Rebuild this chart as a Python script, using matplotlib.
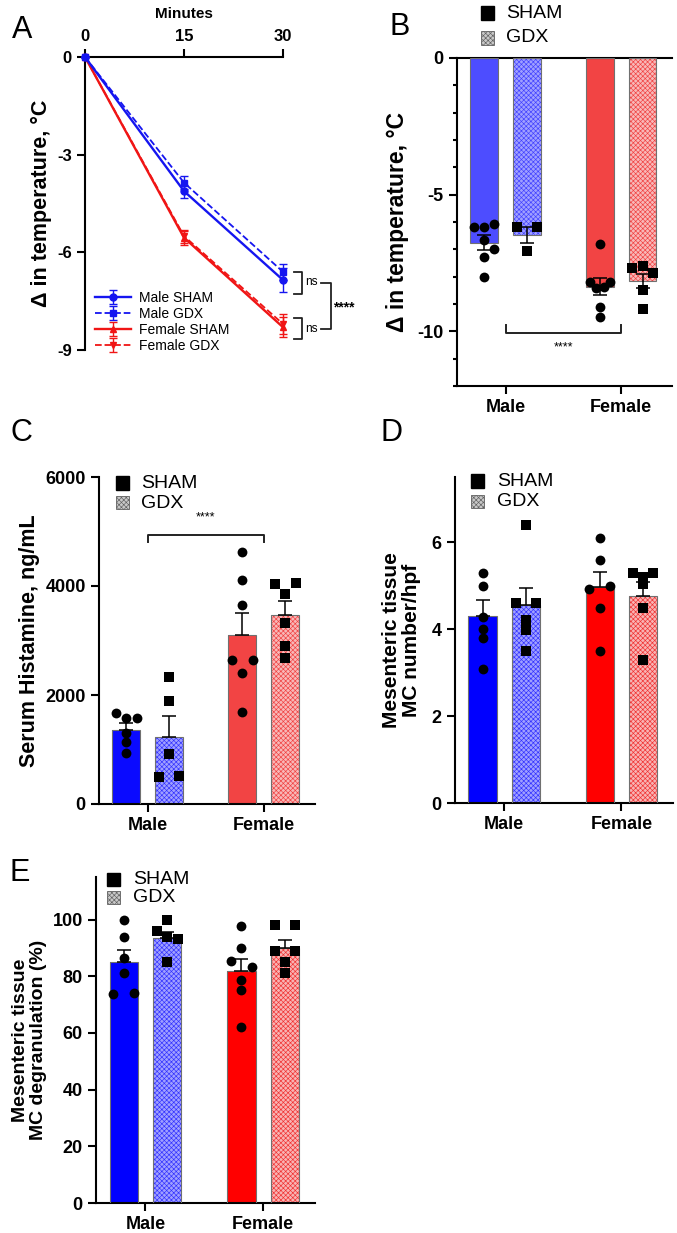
import matplotlib
matplotlib.use("Agg")
import matplotlib.pyplot as plt
from matplotlib.patches import Rectangle
from matplotlib.ticker import MultipleLocator
import numpy as np

plt.rcParams['font.family'] = ['Liberation Sans', 'DejaVu Sans']
plt.rcParams['hatch.linewidth'] = 0.45
plt.rcParams['axes.unicode_minus'] = False

W, H = 677, 1233

# ---------------- data ----------------
# panel A: time course
minutes = [0, 15, 30]
a_male_sham = [0, -4.12, -6.85]
a_male_sham_sem = [0, 0.2, 0.38]
a_male_gdx = [0, -3.86, -6.6]
a_male_gdx_sem = [0, 0.2, 0.25]
a_fem_sham = [0, -5.55, -8.3]
a_fem_sham_sem = [0, 0.22, 0.3]
a_fem_gdx = [0, -5.5, -8.2]
a_fem_gdx_sem = [0, 0.2, 0.32]

groups = ['Male', 'Female']

# panel B: temperature drop (Male SHAM, Male GDX, Female SHAM, Female GDX)
b_means = [-6.75, -6.48, -8.36, -8.15]
b_sem = [0.26, 0.3, 0.3, 0.26]
b_pts = [[-6.19, -6.19, -6.09, -6.65, -6.99, -7.29, -8.0],
         [-6.19, -6.19, -7.07],
         [-6.8, -8.19, -8.19, -8.42, -8.37, -9.1, -9.47],
         [-7.70, -7.60, -7.88, -8.49, -9.19]]

# panel C: serum histamine
c_means = [1356, 1234, 3098, 3464]
c_sem = [123, 380, 410, 257]
c_pts = [[1662, 1582, 1582, 1307, 1143, 929],
         [2322, 1888, 917, 501, 513],
         [4625, 4118, 3648, 2640, 2640, 2407, 1692],
         [4033, 4057, 3862, 3324, 2896, 2688]]

# panel D: MC number/hpf
d_means = [4.31, 4.55, 4.97, 4.76]
d_sem = [0.35, 0.39, 0.34, 0.32]
d_pts = [[5.29, 5.0, 4.28, 4.01, 3.80, 3.09],
         [6.40, 4.6, 4.6, 4.21, 3.98, 3.49],
         [6.10, 5.59, 4.93, 5.0, 4.49, 3.49],
         [5.29, 5.29, 5.2, 5.03, 4.49, 3.30]]

# panel E: MC degranulation (%)
e_means = [85.0, 93.5, 81.7, 90.0]
e_sem = [4.3, 2.0, 4.4, 2.6]
e_pts = [[100, 94, 86.6, 81.1, 73.8, 74],
         [100, 95.8, 93.8, 93, 85],
         [97.6, 90, 85.3, 83.2, 78.7, 75, 62],
         [97.9, 97.9, 88.8, 88.8, 85, 81.1]]

# horizontal jitter slots for the dots (layout only)
b_slots = [[-1, 0, 1, 0, 1, 0, 0], [-1, 1, 0], [0, -1, 1, -0.4, 0.4, 0, 0], [-1, 0, 1, 0, 0]]
c_slots = [[-1, 0, 1, 0, 0, 0], [0, 0, 0, -1, 1], [0, 0, 0, -1, 1, 0, 0], [-1, 1, 0, 0, 0, 0]]
d_slots = [[0, 0, 0, 0, 0, 0], [0, -1, 1, 0, 0, 0], [0, 0, -1, 1, 0, 0], [-1, 1, 0, 0, 0, 0]]
e_slots = [[0, 0, 0, 0, -1, 1], [0, -1, 0, 1, 0], [0, 0, -1, 1, 0, 0, 0], [-1, 1, -1, 1, 0, 0]]


def px_axes(fig, l, r, t, b):
    return fig.add_axes([l / W, 1 - b / H, (r - l) / W, (b - t) / H])


def style(ax, lw=1.5, size=13):
    for s in ax.spines.values():
        s.set_linewidth(lw)
    ax.tick_params(width=lw, length=6, labelsize=size)
    for lab in ax.get_yticklabels() + ax.get_xticklabels():
        lab.set_fontweight('bold')


def legend_px(fig, x, y1, y2, tx):
    s = 13
    fig.patches.append(Rectangle(((x - s / 2) / W, 1 - (y1 + s / 2) / H), s / W, s / H,
                                 transform=fig.transFigure, facecolor='k', edgecolor='k'))
    fig.patches.append(Rectangle(((x - s / 2) / W, 1 - (y2 + s / 2) / H), s / W, s / H,
                                 transform=fig.transFigure, facecolor='#c8c8c8',
                                 edgecolor='#606060', hatch='xxxxxxx', linewidth=0.6))
    fig.text(tx / W, 1 - y1 / H, 'SHAM', fontsize=14, va='center', ha='left')
    fig.text(tx / W, 1 - y2 / H, 'GDX', fontsize=14, va='center', ha='left')


def bar_panel(ax, means, sem, pts, slots, cols, both):
    off, wid, jit = 0.185, 0.24, 0.088
    pos = [-off, off, 1 - off, 1 + off]
    for i in range(4):
        fc, hc, hatched = cols[i]
        if hatched:
            ax.bar(pos[i], means[i], wid, color=fc, edgecolor=hc, hatch='xxxxxxx',
                   linewidth=0, zorder=2)
        else:
            ax.bar(pos[i], means[i], wid, color=fc, linewidth=0, zorder=2)
        ax.bar(pos[i], means[i], wid, fill=False, edgecolor='#707070', linewidth=0.8, zorder=3)
        if both:
            yerr = [[sem[i]], [sem[i]]]
        else:
            yerr = [[0], [sem[i]]]
        ax.errorbar(pos[i], means[i], yerr=yerr, fmt='none', ecolor='k',
                    elinewidth=1.1, capsize=5, capthick=1.1, zorder=4)
        xs = pos[i] + jit * np.array(slots[i])
        ax.scatter(xs, pts[i], s=50, c='k', marker='o' if i % 2 == 0 else 's',
                   zorder=5, clip_on=False, linewidths=0)
    ax.set_xlim(-0.42, 1.44)
    ax.set_xticks([0, 1])
    ax.set_xticklabels(groups)
    ax.spines['right'].set_visible(False)
    ax.spines['top'].set_visible(False)


fig = plt.figure(figsize=(W / 100, H / 100), dpi=100)

# ---------------- A ----------------
ax = px_axes(fig, 85, 283, 57, 350)
ax.errorbar(minutes, a_male_sham, yerr=a_male_sham_sem, color='#1515f0', marker='o', ms=5,
            lw=1.7, capsize=3, elinewidth=1, label='Male SHAM', clip_on=False, zorder=4)
ax.errorbar(minutes, a_male_gdx, yerr=a_male_gdx_sem, color='#1515f0', marker='s', ms=5,
            lw=1.3, ls='--', capsize=3, elinewidth=1, label='Male GDX', clip_on=False, zorder=4)
ax.errorbar(minutes, a_fem_sham, yerr=a_fem_sham_sem, color='#f01515', marker='^', ms=4.5,
            lw=1.7, capsize=3, elinewidth=1, label='Female SHAM', clip_on=False, zorder=3)
ax.errorbar(minutes, a_fem_gdx, yerr=a_fem_gdx_sem, color='#f01515', marker='v', ms=4.5,
            lw=1.3, ls='--', capsize=3, elinewidth=1, label='Female GDX', clip_on=False, zorder=3)
ax.set_xlim(0, 30)
ax.set_ylim(-9, 0)
ax.set_xticks(minutes)
ax.set_yticks([0, -3, -6, -9])
ax.xaxis.tick_top()
ax.xaxis.set_label_position('top')
ax.set_xlabel('Minutes', fontweight='bold', fontsize=11, labelpad=8)
ax.spines['bottom'].set_visible(False)
ax.spines['right'].set_visible(False)
ax.set_ylabel('Δ in temperature, °C', fontweight='bold', fontsize=15.5, labelpad=4)
style(ax, size=12)
ax.legend(loc='lower left', bbox_to_anchor=(0.02, -0.03), frameon=False, fontsize=10,
          handlelength=2.6, labelspacing=0.15, borderaxespad=0, handletextpad=0.6)
# significance brackets
kw = dict(color='#222222', lw=1.3, clip_on=False)
ax.plot([31.6, 32.9, 32.9, 31.6], [-6.6, -6.6, -7.28, -7.28], **kw)
ax.plot([31.6, 32.9, 32.9, 31.6], [-8.02, -8.02, -8.66, -8.66], **kw)
ax.plot([35.8, 37.2, 37.2, 35.8], [-6.94, -6.94, -8.35, -8.35], **kw)
ax.text(33.3, -6.92, 'ns', fontsize=8.5, va='center', ha='left')
ax.text(33.3, -8.36, 'ns', fontsize=8.5, va='center', ha='left')
ax.text(37.6, -7.7, '****', fontsize=10, fontweight='bold', va='center', ha='left')

# ---------------- B ----------------
ax = px_axes(fig, 457, 672, 58, 386)
cols_b = [('#4d4dff', None, False), ('#a0a0ff', '#4040ff', True),
          ('#f24444', None, False), ('#f8b8b8', '#f04040', True)]
bar_panel(ax, b_means, b_sem, b_pts, b_slots, cols_b, True)
ax.spines['top'].set_visible(True)
ax.set_ylim(-12, 0)
ax.set_yticks([0, -5, -10])
ax.yaxis.set_minor_locator(MultipleLocator(1))
ax.tick_params(which='minor', length=3, width=1.5)
ax.set_ylabel('Δ in temperature, °C', fontweight='bold', fontsize=16.5, labelpad=6)
style(ax)
ax.plot([0, 0, 1, 1], [-9.75, -10.05, -10.05, -9.75], color='#222222', lw=1.4)
ax.text(0.5, -10.6, '****', fontsize=9, ha='center', va='center')
legend_px(fig, 487, 13, 38, 506)

# ---------------- C ----------------
ax = px_axes(fig, 99, 315, 477, 804)
cols_c = [('#0a0aff', None, False), ('#a0a0ff', '#3030ff', True),
          ('#f24444', None, False), ('#f8b8b8', '#f04040', True)]
bar_panel(ax, c_means, c_sem, c_pts, c_slots, cols_c, False)
ax.set_ylim(0, 6000)
ax.set_yticks([0, 2000, 4000, 6000])
ax.set_ylabel('Serum Histamine, ng/mL', fontweight='bold', fontsize=15.5, labelpad=4)
style(ax)
ax.plot([0, 0, 1, 1], [4800, 4930, 4930, 4800], color='#222222', lw=1.4)
ax.text(0.5, 5260, '****', fontsize=9, ha='center', va='center')
legend_px(fig, 122, 483, 503, 141)

# ---------------- D ----------------
ax = px_axes(fig, 455, 673, 477, 803)
cols_d = [('#0000ff', None, False), ('#a0a0ff', '#3030ff', True),
          ('#ff0000', None, False), ('#f8b4b4', '#f03030', True)]
bar_panel(ax, d_means, d_sem, d_pts, d_slots, cols_d, False)
ax.set_ylim(0, 7.5)
ax.set_yticks([0, 2, 4, 6])
ax.set_ylabel('Mesenteric tissue\nMC number/hpf', fontweight='bold', fontsize=15,
              labelpad=8, linespacing=1.05)
style(ax)
legend_px(fig, 477, 481, 501, 497)

# ---------------- E ----------------
ax = px_axes(fig, 96, 315, 877, 1203)
bar_panel(ax, e_means, e_sem, e_pts, e_slots, cols_d, False)
ax.set_ylim(0, 115)
ax.set_yticks([0, 20, 40, 60, 80, 100])
ax.set_ylabel('Mesenteric tissue\nMC degranulation (%)', fontweight='bold', fontsize=14,
              labelpad=4, linespacing=1.05)
style(ax)
legend_px(fig, 113, 879, 897, 133)

# panel letters
fig.text(12 / W, 1 - 30 / H, 'A', fontsize=22, va='center', ha='left')
fig.text(390 / W, 1 - 27 / H, 'B', fontsize=22, va='center', ha='left')
fig.text(10 / W, 1 - 433 / H, 'C', fontsize=22, va='center', ha='left')
fig.text(381 / W, 1 - 433 / H, 'D', fontsize=22, va='center', ha='left')
fig.text(10 / W, 1 - 873 / H, 'E', fontsize=22, va='center', ha='left')

plt.savefig('out.png', dpi=100)
